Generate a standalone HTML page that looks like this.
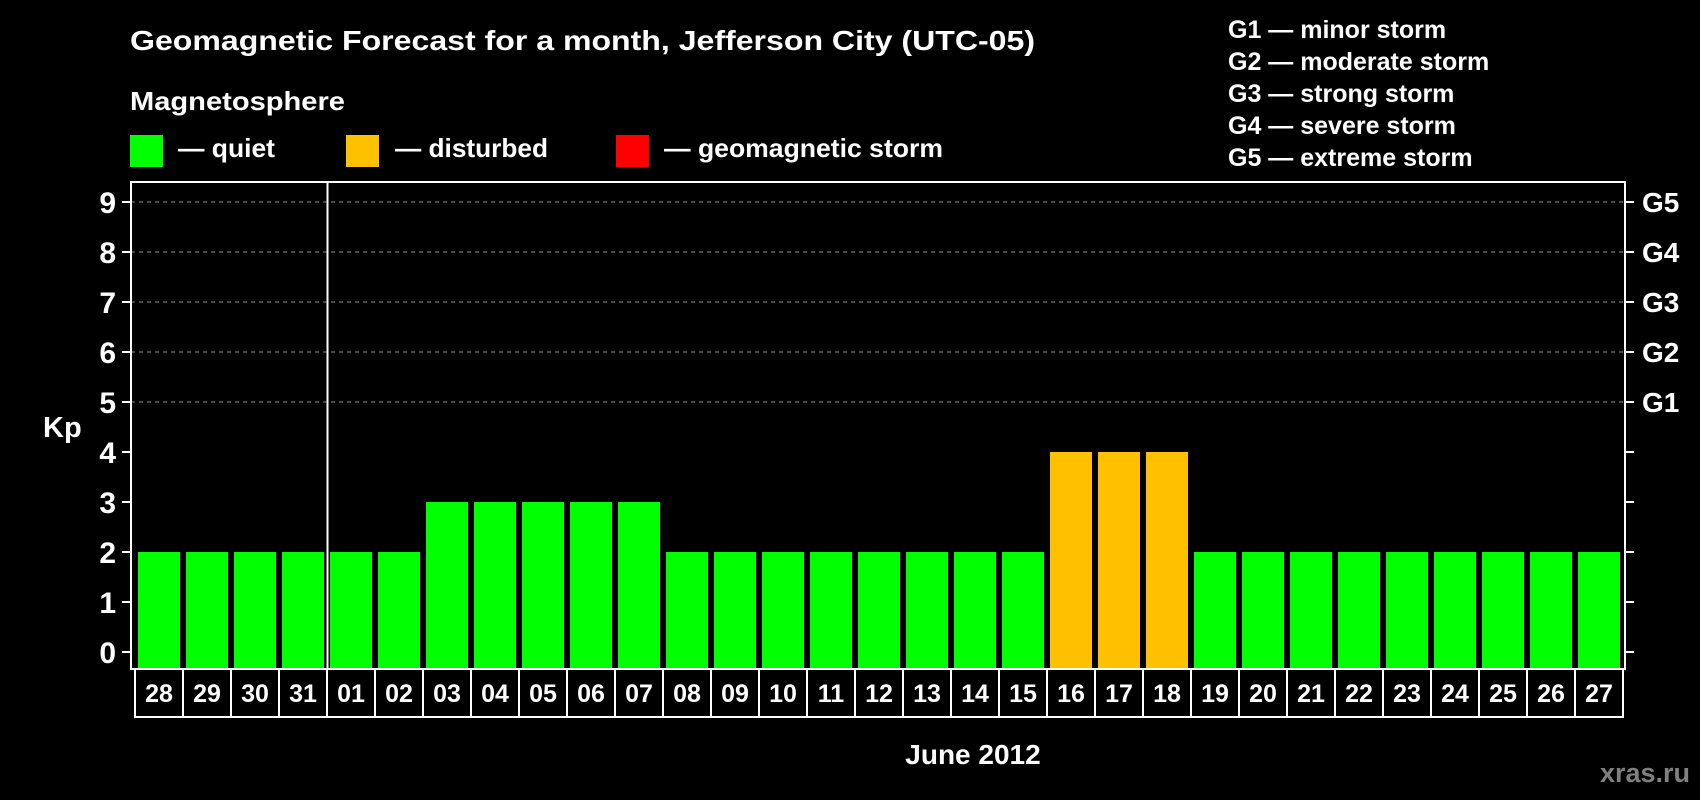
<!DOCTYPE html>
<html><head><meta charset="utf-8"><style>
html,body{margin:0;padding:0;background:#000;}
svg{display:block;font-family:"Liberation Sans",Arial,sans-serif;font-weight:bold;}
</style></head><body>
<svg id="chart" width="1700" height="800" viewBox="0 0 1700 800" xmlns="http://www.w3.org/2000/svg">
<rect x="0" y="0" width="1700" height="800" fill="#000"/>
<text x="130" y="50" fill="#fff" font-size="28" textLength="905" lengthAdjust="spacingAndGlyphs">Geomagnetic Forecast for a month, Jefferson City (UTC-05)</text>
<text x="130" y="110" fill="#fff" font-size="26" textLength="215" lengthAdjust="spacingAndGlyphs">Magnetosphere</text>
<g>
<rect x="130" y="135" width="33" height="32" fill="#00ff00"/>
<text x="178" y="157" fill="#fff" font-size="26" textLength="97" lengthAdjust="spacingAndGlyphs">— quiet</text>
</g>
<g>
<rect x="346" y="135" width="33" height="32" fill="#ffc000"/>
<text x="395" y="157" fill="#fff" font-size="26" textLength="153" lengthAdjust="spacingAndGlyphs">— disturbed</text>
</g>
<g>
<rect x="616" y="135" width="33" height="32" fill="#ff0000"/>
<text x="664" y="157" fill="#fff" font-size="26" textLength="279" lengthAdjust="spacingAndGlyphs">— geomagnetic storm</text>
</g>
<g>
<text x="1228" y="38" fill="#fff" font-size="25">G1 — minor storm</text>
<text x="1228" y="70" fill="#fff" font-size="25">G2 — moderate storm</text>
<text x="1228" y="102" fill="#fff" font-size="25">G3 — strong storm</text>
<text x="1228" y="134" fill="#fff" font-size="25">G4 — severe storm</text>
<text x="1228" y="166" fill="#fff" font-size="25">G5 — extreme storm</text>
</g>
<g id="grid"></g>
<g id="bars"></g>
<g id="axes"></g>
<text x="43" y="437" fill="#fff" font-size="29">Kp</text>
<text x="973" y="764" fill="#fff" font-size="28" text-anchor="middle">June 2012</text>
<text x="1690" y="782" fill="#808080" font-size="27" text-anchor="end">xras.ru</text>
</svg>
<script>
const days = ["28","29","30","31","01","02","03","04","05","06","07","08","09","10","11","12","13","14","15","16","17","18","19","20","21","22","23","24","25","26","27"];
const kpValues = [2,2,2,2,2,2,3,3,3,3,3,2,2,2,2,2,2,2,2,4,4,4,2,2,2,2,2,2,2,2,2];
const yTicks = [0,1,2,3,4,5,6,7,8,9];
const gLabels = ["G1","G2","G3","G4","G5"];
const gLevels = [5,6,7,8,9];
const monthStartIndex = 4;

const NS = "http://www.w3.org/2000/svg";
const plotL = 131, plotR = 1625, plotT = 182, plotB = 669;
const zeroY = 652, unit = 50;
const firstX = 135, pitch = 48, barW = 42;
function yScale(v){ return zeroY - v*unit; }
function xScale(i){ return firstX + i*pitch; }
function colorFor(v){ return v >= 5 ? "#ff0000" : (v >= 4 ? "#ffc000" : "#00ff00"); }
function mk(tag, attrs, parent){
  const el = document.createElementNS(NS, tag);
  for (const k in attrs) el.setAttribute(k, attrs[k]);
  parent.appendChild(el);
  return el;
}
const grid = document.getElementById("grid");
const bars = document.getElementById("bars");
const axes = document.getElementById("axes");

gLevels.forEach((lv) => {
  const l = mk("line", {x1: plotL, x2: plotR, y1: yScale(lv), y2: yScale(lv), stroke: "#909090", "stroke-width": 1, "stroke-dasharray": "4,4"}, grid);
  
  
});

kpValues.forEach((v, i) => {
  const top = yScale(v);
  const r = mk("rect", {x: xScale(i) + 3, y: top, width: barW, height: plotB - top, fill: colorFor(v)}, bars);
  
  
});

const frame = mk("rect", {x: plotL, y: plotT, width: plotR - plotL, height: plotB - plotT, fill: "none", stroke: "#fff", "stroke-width": 2}, axes);



const sepX = xScale(monthStartIndex) - 0.5 + 1;
const sep = mk("line", {x1: sepX, x2: sepX, y1: plotT, y2: plotB, stroke: "#fff", "stroke-width": 2}, axes);



yTicks.forEach((t) => {
  const y = yScale(t);
  const tl = mk("line", {x1: plotL - 9, x2: plotL, y1: y, y2: y, stroke: "#fff", "stroke-width": 2}, axes);
  
  
  const tr = mk("line", {x1: plotR, x2: plotR + 9, y1: y, y2: y, stroke: "#fff", "stroke-width": 2}, axes);
  
  
  const tx = mk("text", {x: 116, y: y + 11, fill: "#fff", "font-size": 30, "text-anchor": "end"}, axes);
  tx.textContent = t;
  
  
});

gLabels.forEach((g, i) => {
  const tx = mk("text", {x: 1642, y: yScale(gLevels[i]) + 10, fill: "#fff", "font-size": 28}, axes);
  tx.textContent = g;
  
  
});

const boxT = 669, boxB = 717;
days.forEach((d, i) => {
  const bx = xScale(i);
  const box = mk("rect", {x: bx, y: boxT, width: pitch, height: boxB - boxT, fill: "#000", stroke: "#fff", "stroke-width": 2}, axes);
  
  
  const tx = mk("text", {x: bx + pitch/2, y: 702, fill: "#fff", "font-size": 25, "text-anchor": "middle"}, axes);
  tx.textContent = d;
  
  
});
</script>
</body></html>
